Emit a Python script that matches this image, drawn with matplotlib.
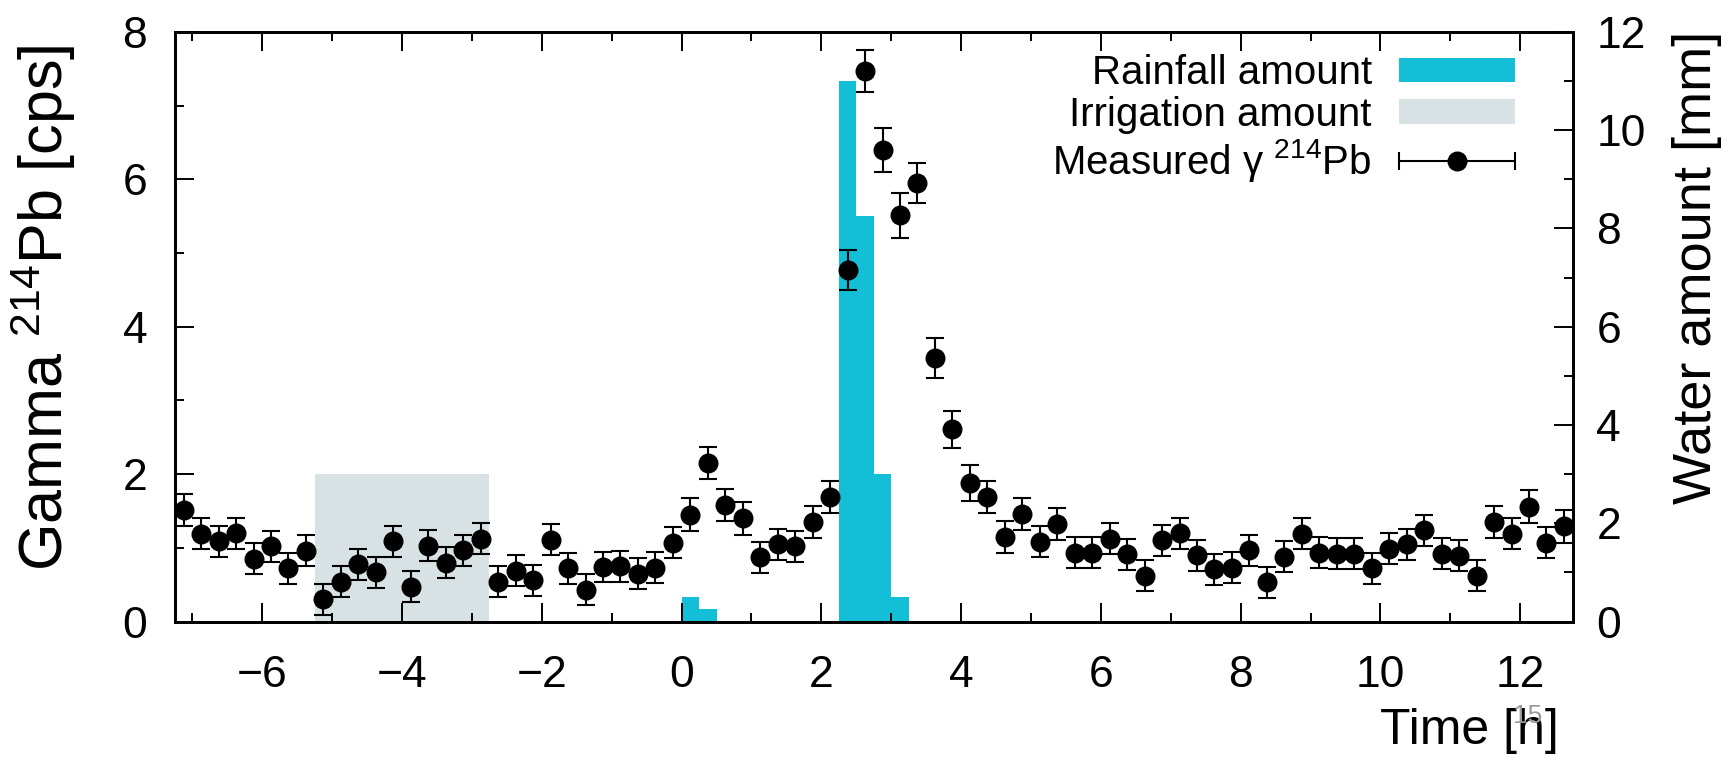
import numpy as np
import matplotlib.pyplot as plt
from matplotlib.legend_handler import HandlerErrorbar

plt.rcParams['font.family'] = ['Liberation Sans', 'DejaVu Sans']
plt.rcParams['mathtext.fontset'] = 'custom'
plt.rcParams['mathtext.rm'] = 'Liberation Sans'
plt.rcParams['mathtext.it'] = 'Liberation Sans:italic'
plt.rcParams['mathtext.default'] = 'regular'

# 15-minute bins, bin centres in hours
time_h = [-7.125, -6.875, -6.625, -6.375, -6.125, -5.875, -5.625, -5.375, -5.125, -4.875,
          -4.625, -4.375, -4.125, -3.875, -3.625, -3.375, -3.125, -2.875, -2.625, -2.375,
          -2.125, -1.875, -1.625, -1.375, -1.125, -0.875, -0.625, -0.375, -0.125, 0.125,
          0.375, 0.625, 0.875, 1.125, 1.375, 1.625, 1.875, 2.125, 2.375, 2.625,
          2.875, 3.125, 3.375, 3.625, 3.875, 4.125, 4.375, 4.625, 4.875, 5.125,
          5.375, 5.625, 5.875, 6.125, 6.375, 6.625, 6.875, 7.125, 7.375, 7.625,
          7.875, 8.125, 8.375, 8.625, 8.875, 9.125, 9.375, 9.625, 9.875, 10.125,
          10.375, 10.625, 10.875, 11.125, 11.375, 11.625, 11.875, 12.125, 12.375, 12.625]
gamma_cps = [1.51, 1.19, 1.09, 1.20, 0.85, 1.02, 0.72, 0.96, 0.30, 0.54,
             0.78, 0.67, 1.09, 0.47, 1.03, 0.80, 0.97, 1.12, 0.54, 0.69,
             0.56, 1.11, 0.72, 0.43, 0.74, 0.75, 0.65, 0.73, 1.07, 1.45,
             2.15, 1.58, 1.40, 0.87, 1.05, 1.02, 1.35, 1.69, 4.77, 7.47,
             6.40, 5.51, 5.95, 3.58, 2.61, 1.88, 1.69, 1.15, 1.46, 1.08,
             1.32, 0.93, 0.93, 1.12, 0.91, 0.62, 1.10, 1.20, 0.90, 0.71,
             0.73, 0.97, 0.53, 0.88, 1.19, 0.93, 0.92, 0.92, 0.72, 0.99,
             1.05, 1.24, 0.92, 0.89, 0.62, 1.35, 1.19, 1.56, 1.07, 1.29]
gamma_err = [0.22, 0.21, 0.21, 0.21, 0.21, 0.21, 0.21, 0.21, 0.21, 0.21,
             0.21, 0.21, 0.21, 0.21, 0.21, 0.21, 0.21, 0.21, 0.21, 0.21,
             0.21, 0.21, 0.21, 0.21, 0.21, 0.21, 0.21, 0.21, 0.21, 0.22,
             0.22, 0.22, 0.22, 0.21, 0.21, 0.21, 0.22, 0.22, 0.27, 0.29,
             0.30, 0.30, 0.27, 0.27, 0.25, 0.24, 0.22, 0.22, 0.22, 0.21,
             0.22, 0.21, 0.21, 0.21, 0.21, 0.21, 0.21, 0.21, 0.21, 0.21,
             0.21, 0.21, 0.21, 0.21, 0.21, 0.21, 0.21, 0.21, 0.21, 0.21,
             0.21, 0.21, 0.21, 0.21, 0.21, 0.22, 0.21, 0.22, 0.21, 0.22]

rain_start_h = [0.0, 0.25, 2.25, 2.5, 2.75, 3.0]
rain_mm = [0.5, 0.25, 11.0, 8.25, 3.0, 0.5]

irrigation_start_h = [-5.25]
irrigation_end_h = [-2.75]
irrigation_mm = [3.0]

rain_color = '#12BFD6'
irr_color = '#D8E1E3'

fig = plt.figure(figsize=(17.32, 7.61), dpi=100)
ax = fig.add_axes([0.101, 0.1833, 0.807, 0.7747])
ax2 = ax.twinx()
ax.set_zorder(ax2.get_zorder() + 1)
ax.patch.set_visible(False)

rain = ax2.bar(rain_start_h, rain_mm, width=0.25, align='edge',
               color=rain_color, linewidth=0, label='Rainfall amount')
irr_width = np.subtract(irrigation_end_h, irrigation_start_h)
irr = ax2.bar(irrigation_start_h, irrigation_mm, width=irr_width, align='edge',
              color=irr_color, linewidth=0, label='Irrigation amount')

ax.errorbar(time_h, gamma_cps, yerr=gamma_err, fmt='o', color='black',
            ms=13.4, elinewidth=1.5, capsize=6.5, capthick=1.5)
# legend-only handle (gnuplot style: horizontal bar with end caps)
leg_eb = ax.errorbar([np.nan], [np.nan], xerr=[1.0], fmt='o', color='black',
                     ms=13.4, elinewidth=1.5, capsize=6.5, capthick=1.5,
                     label='Measured γ $^{214}$Pb')

ax.set_xlim(-7.25, 12.75)
ax.set_ylim(0, 8)
ax2.set_ylim(0, 12)

ax.set_xticks([-6, -4, -2, 0, 2, 4, 6, 8, 10, 12])
ax.set_xticks([-7, -5, -3, -1, 1, 3, 5, 7, 9, 11], minor=True)
ax.set_yticks([0, 2, 4, 6, 8])
ax.set_yticks([1, 3, 5, 7], minor=True)
ax2.set_yticks([0, 2, 4, 6, 8, 10, 12])
ax2.set_yticks([1, 3, 5, 7, 9, 11], minor=True)

ax.tick_params(which='both', direction='in', top=True, right=False, width=1.4)
ax.tick_params(which='major', length=13.7, labelsize=32)
ax.tick_params(which='minor', length=6.8)
ax.tick_params(axis='x', pad=24)
ax.tick_params(axis='y', pad=20)
ax2.tick_params(which='both', direction='in', left=False, width=1.4)
ax2.tick_params(which='major', length=13.7, labelsize=32, pad=17)
ax2.tick_params(which='minor', length=6.8)

for a in (ax, ax2):
    for s in a.spines.values():
        s.set_linewidth(2.0)

ax.set_xlabel('Time [h]', fontsize=36, va='center')
ax.xaxis.set_label_coords(0.926, -0.186)
ax.set_ylabel('Gamma $^{214}$Pb [cps]', fontsize=44, va='center')
ax.yaxis.set_label_coords(-0.094, 0.532)
ax2.set_ylabel('Water amount [mm]', fontsize=39, va='center', rotation=90)
ax2.yaxis.set_label_coords(1.089, 0.60)

ax.legend([rain, irr, leg_eb],
          ['Rainfall amount', 'Irrigation amount', 'Measured γ $^{214}$Pb'],
          handler_map={leg_eb: HandlerErrorbar(xerr_size=1.44)},
          loc='upper right', bbox_to_anchor=(0.973, 0.996), frameon=False,
          fontsize=29, markerfirst=False, handlelength=2.88, handleheight=0.55,
          handletextpad=0.67, labelspacing=0.08, borderpad=0, numpoints=1)

fig.text(0.882, 0.059, '15', fontsize=19, color='#9a9a9a', ha='center', va='center')

fig.savefig('out.png', dpi=100)
